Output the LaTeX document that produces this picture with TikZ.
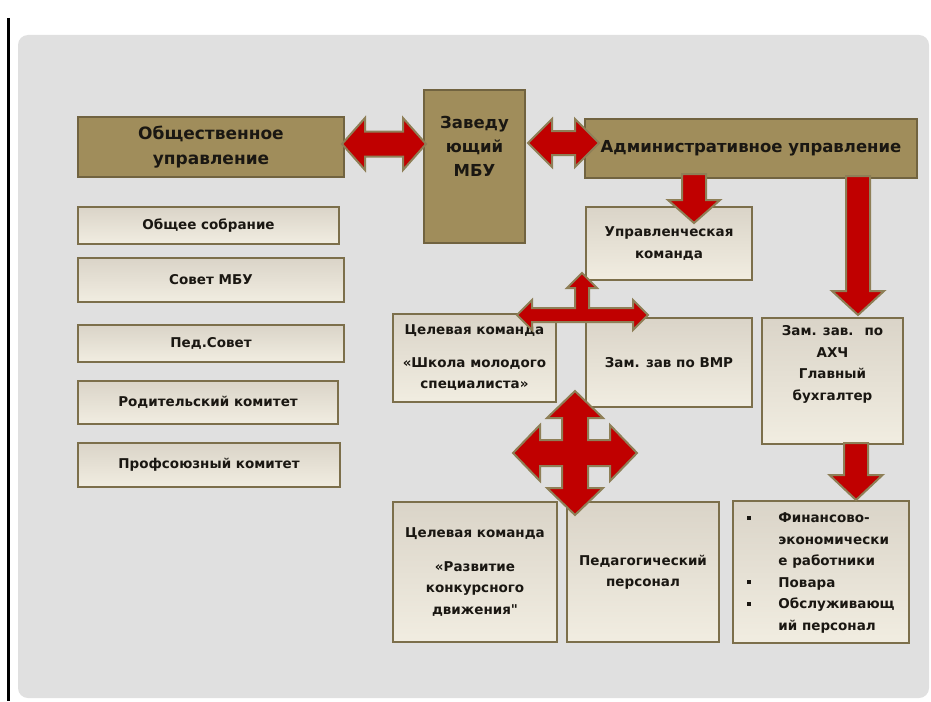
\documentclass[tikz,border=0pt]{standalone}
\usepackage{fontspec}
\setmainfont{DejaVu Sans}[Ligatures=TeXOff]
\usetikzlibrary{calc}
\definecolor{khaki}{HTML}{A08D5B}
\definecolor{khakiline}{HTML}{716340}
\definecolor{boxline}{HTML}{7C6F4B}
\definecolor{boxtop}{HTML}{DAD4C8}
\definecolor{boxbot}{HTML}{F1EDE1}
\definecolor{arrred}{HTML}{C00000}
\definecolor{arrline}{HTML}{8E7F57}
\definecolor{panel}{HTML}{E0E0E0}
\definecolor{txt}{HTML}{1A1712}
\newcommand\hdblarrow[5]{\draw[barrow] let \p1=(#1), \p2=(#2) in
  (\x1,\y1) -- (\x1+#5,\y1+#4) -- (\x1+#5,\y1+#3) -- (\x2-#5,\y1+#3) -- (\x2-#5,\y1+#4) --
  (\x2,\y1) -- (\x2-#5,\y1-#4) -- (\x2-#5,\y1-#3) -- (\x1+#5,\y1-#3) -- (\x1+#5,\y1-#4) -- cycle;}
\newcommand\vdownarrow[5]{\draw[barrow] let \p1=(#1), \p2=(#2) in
  (\x1-#3,\y1) -- (\x1+#3,\y1) -- (\x1+#3,\y2+#5) -- (\x1+#4,\y2+#5) -- (\x1,\y2) --
  (\x1-#4,\y2+#5) -- (\x1-#3,\y2+#5) -- cycle;}
\begin{document}
\begin{tikzpicture}[x=1pt,y=-1pt,
  darkbox/.style={draw=khakiline, line width=2pt, fill=khaki, inner sep=0pt, align=center,
    text=txt, font=\bfseries\fontsize{17}{25}\selectfont},
  lightbox/.style={draw=boxline, line width=2.2pt, top color=boxtop, bottom color=boxbot,
    inner sep=0pt, align=center, text=txt, font=\bfseries\fontsize{13.5}{21.5}\selectfont},
  barrow/.style={fill=arrred, draw=arrline, line width=2pt, line join=miter}]
\useasboundingbox (0,0) rectangle (931,701);
\fill[white] (0,0) rectangle (931,701);
\fill[panel, rounded corners=10pt] (18,35) rectangle (929,698);
\draw[black, line width=3pt] (8.5,18) -- (8.5,701);

% top row
\node[darkbox, minimum width=266, minimum height=60] (obsh) at (211,147) {Общественное\\управление};
\node[darkbox, minimum width=101, minimum height=153, font=\bfseries\fontsize{16.5}{24}\selectfont] (zav) at (474.5,166.5)
  {Заведу\\ющий\\МБУ\rule[-40pt]{0pt}{0pt}};
\node[darkbox, minimum width=332, minimum height=59, font=\bfseries\fontsize{16.5}{24}\selectfont] (adm) at (751,148.5)
  {Административное управление};

% left column
\node[lightbox, minimum width=261, minimum height=37] (obsob) at (208.5,225.5) {Общее собрание};
\node[lightbox, minimum width=266, minimum height=44] (sovet) at (211,280) {Совет МБУ};
\node[lightbox, minimum width=266, minimum height=37] (pedsov) at (211,343.5) {Пед.Совет};
\node[lightbox, minimum width=260, minimum height=43] (rodit) at (208,402.5) {Родительский комитет};
\node[lightbox, minimum width=262, minimum height=44] (prof) at (209,465) {Профсоюзный комитет};

% middle / right
\node[lightbox, minimum width=166, minimum height=73] (upr) at (669,243.5) {Управленческая\\команда};
\node[lightbox, minimum width=163, minimum height=88] (shkola) at (474.5,358)
  {Целевая команда\\[11pt]«Школа молодого\\специалиста»};
\node[lightbox, minimum width=166, minimum height=89] (vmr) at (669,362.5) {Зам. зав по ВМР};
\node[lightbox, minimum width=141, minimum height=126] (ahch) at (832.5,381)
  {Зам. зав. \ по\\АХЧ\\Главный\\бухгалтер\rule[-36pt]{0pt}{0pt}};
\node[lightbox, minimum width=164, minimum height=140] (razv) at (475,572)
  {Целевая команда\\[12pt]«Развитие\\конкурсного\\движения"};
\node[lightbox, minimum width=152, minimum height=140] (pedpers) at (643,572) {Педагогический\\персонал};
\node[lightbox, minimum width=176, minimum height=142, align=left] (fin) at (821,572)
  {\begin{tabular}{@{}l@{}l@{}}
   \makebox[31pt][l]{\rule[3pt]{3.5pt}{4pt}} & Финансово-\\
   & экономически\\
   & е работники\\
   \makebox[31pt][l]{\rule[3pt]{3.5pt}{4pt}} & Повара\\
   \makebox[31pt][l]{\rule[3pt]{3.5pt}{4pt}} & Обслуживающ\\
   & ий персонал
   \end{tabular}};

% arrows
\coordinate (ha1) at (342,144);
\coordinate (ha2) at (426,144);
\hdblarrow{ha1}{ha2}{12.5pt}{26pt}{23pt}
\coordinate (hb1) at (528,143);
\coordinate (hb2) at (599,143);
\hdblarrow{hb1}{hb2}{12pt}{24pt}{24pt}
\coordinate (da1) at (694,174);
\coordinate (da2) at (694,223);
\vdownarrow{da1}{da2}{12pt}{26pt}{23pt}
\coordinate (db1) at (858,176);
\coordinate (db2) at (858,315);
\vdownarrow{db1}{db2}{12pt}{26pt}{24pt}
\coordinate (dc1) at (856,443);
\coordinate (dc2) at (856,500);
\vdownarrow{dc1}{dc2}{12pt}{26.5pt}{25pt}

\coordinate (tarr) at (582,315);
\draw[barrow, shift={(tarr)}]
  (-65,0) -- (-50,-15) -- (-50,-7) -- (-7,-7) -- (-7,-27) -- (-15,-27) -- (0,-42) -- (15,-27) --
  (7,-27) -- (7,-7) -- (51,-7) -- (51,-15) -- (66,0) -- (51,15) -- (51,7) -- (-50,7) -- (-50,15) -- cycle;

\coordinate (quad) at (575,453);
\draw[barrow, shift={(quad)}]
  (0,-62) -- (28,-35) -- (13,-35) -- (13,-13) -- (35,-13) -- (35,-28) -- (62,0) -- (35,28) --
  (35,13) -- (13,13) -- (13,35) -- (28,35) -- (0,62) -- (-28,35) -- (-13,35) -- (-13,13) --
  (-35,13) -- (-35,28) -- (-62,0) -- (-35,-28) -- (-35,-13) -- (-13,-13) -- (-13,-35) -- (-28,-35) -- cycle;
\end{tikzpicture}
\end{document}
